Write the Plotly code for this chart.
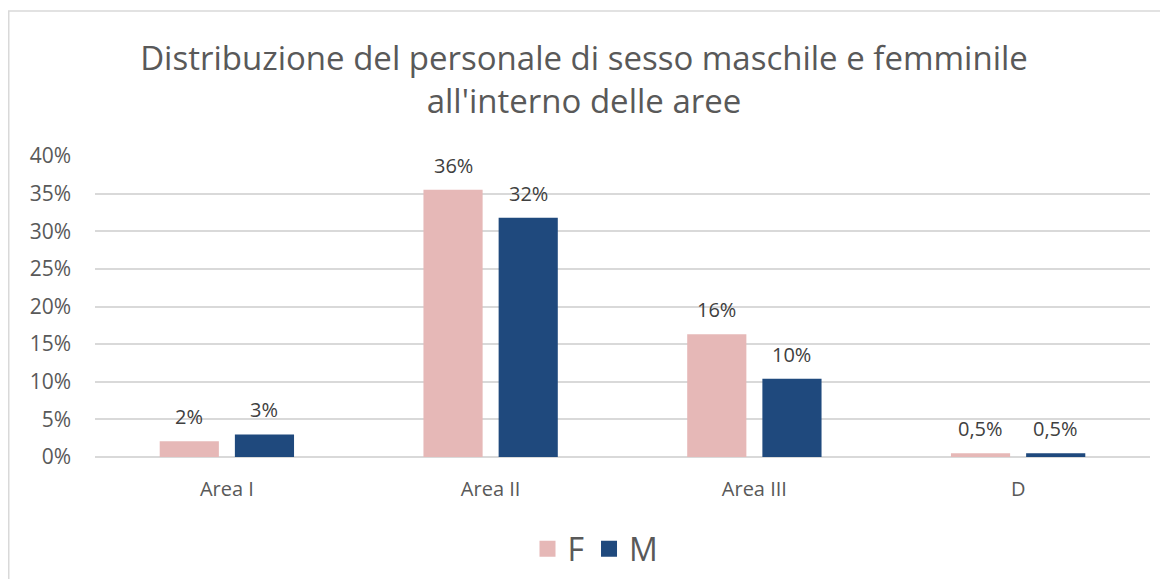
import plotly.graph_objects as go

# data
aree = ["Area I", "Area II", "Area III", "D"]
quota_f = [0.021, 0.355, 0.163, 0.005]
quota_m = [0.030, 0.318, 0.104, 0.005]
etichette_f = ["2%", "36%", "16%", "0,5%"]
etichette_m = ["3%", "32%", "10%", "0,5%"]
tick_vals = [0, 0.05, 0.10, 0.15, 0.20, 0.25, 0.30, 0.35, 0.40]

ROSA = "#E6B8B7"
BLU = "#1F497D"
GRIGIO = "#595959"
FONT = "Open Sans"

# page body adds an 8px margin, so the figure is 16px smaller than the window
W, H = 1152, 571
ML, MR, MT, MB = 87, 10, 148, 122
PW, PH = W - ML - MR, H - MT - MB

fig = go.Figure()

fig.add_trace(go.Bar(name="F", x=aree, y=quota_f, marker_color=ROSA,
                     marker_line_width=0, showlegend=False))
fig.add_trace(go.Bar(name="M", x=aree, y=quota_m, marker_color=BLU,
                     marker_line_width=0, showlegend=False))

# legend entries with bigger square swatches than the bar icons
for nome, colore in [("F", ROSA), ("M", BLU)]:
    fig.add_trace(go.Scatter(name=nome, x=[None], y=[None], mode="markers",
                             marker=dict(symbol="square", size=21, color=colore)))

# data labels sit a bit higher than plotly's "outside" text, so use annotations
for serie, etichette, shift in [(quota_f, etichette_f, -37.5),
                                (quota_m, etichette_m, 37.5)]:
    for area, val, lab in zip(aree, serie, etichette):
        fig.add_annotation(x=area, y=val, text=lab, showarrow=False,
                           xshift=shift, yshift=9, yanchor="bottom",
                           font=dict(family=FONT, size=20, color="#404040"))

fig.update_yaxes(
    range=[0, 0.40],
    tickvals=tick_vals,
    tickformat=".0%",
    showgrid=True,
    gridcolor="#D9D9D9",
    gridwidth=1.5,
    zeroline=True,
    zerolinecolor="#D9D9D9",
    zerolinewidth=1.5,
    showline=False,
    ticklabelstandoff=23,
    tickfont=dict(family=FONT, size=21, color=GRIGIO),
)
fig.update_xaxes(
    showline=False,
    tickfont=dict(family=FONT, size=20, color=GRIGIO),
    ticklabelstandoff=18,
)

# chart frame (right and bottom edges fall outside the window)
fig.add_shape(type="rect", xref="paper", yref="paper",
              x0=(0.75 - ML) / PW, x1=1.1,
              y0=-0.6, y1=1 + (MT - 3) / PH,
              line=dict(color="#D9D9D9", width=1.5), fillcolor="rgba(0,0,0,0)")

fig.update_layout(
    width=W,
    height=H,
    margin=dict(l=ML, r=MR, t=MT, b=MB),
    barmode="group",
    bargap=0.43,
    bargroupgap=0.213,
    plot_bgcolor="white",
    paper_bgcolor="white",
    title=dict(
        text="Distribuzione del personale di sesso maschile e femminile<br>all'interno delle aree",
        x=0.5, xanchor="center", y=1 - 62 / H, yanchor="middle",
        font=dict(family=FONT, size=33, color=GRIGIO),
    ),
    legend=dict(
        orientation="h", x=0.5 - 27 / PW, xanchor="center",
        yref="container", y=1 - 541 / H, yanchor="middle",
        font=dict(family=FONT, size=32, color=GRIGIO),
        itemsizing="trace",
        itemwidth=30,
    ),
    showlegend=True,
)

fig.write_html("out.html")
